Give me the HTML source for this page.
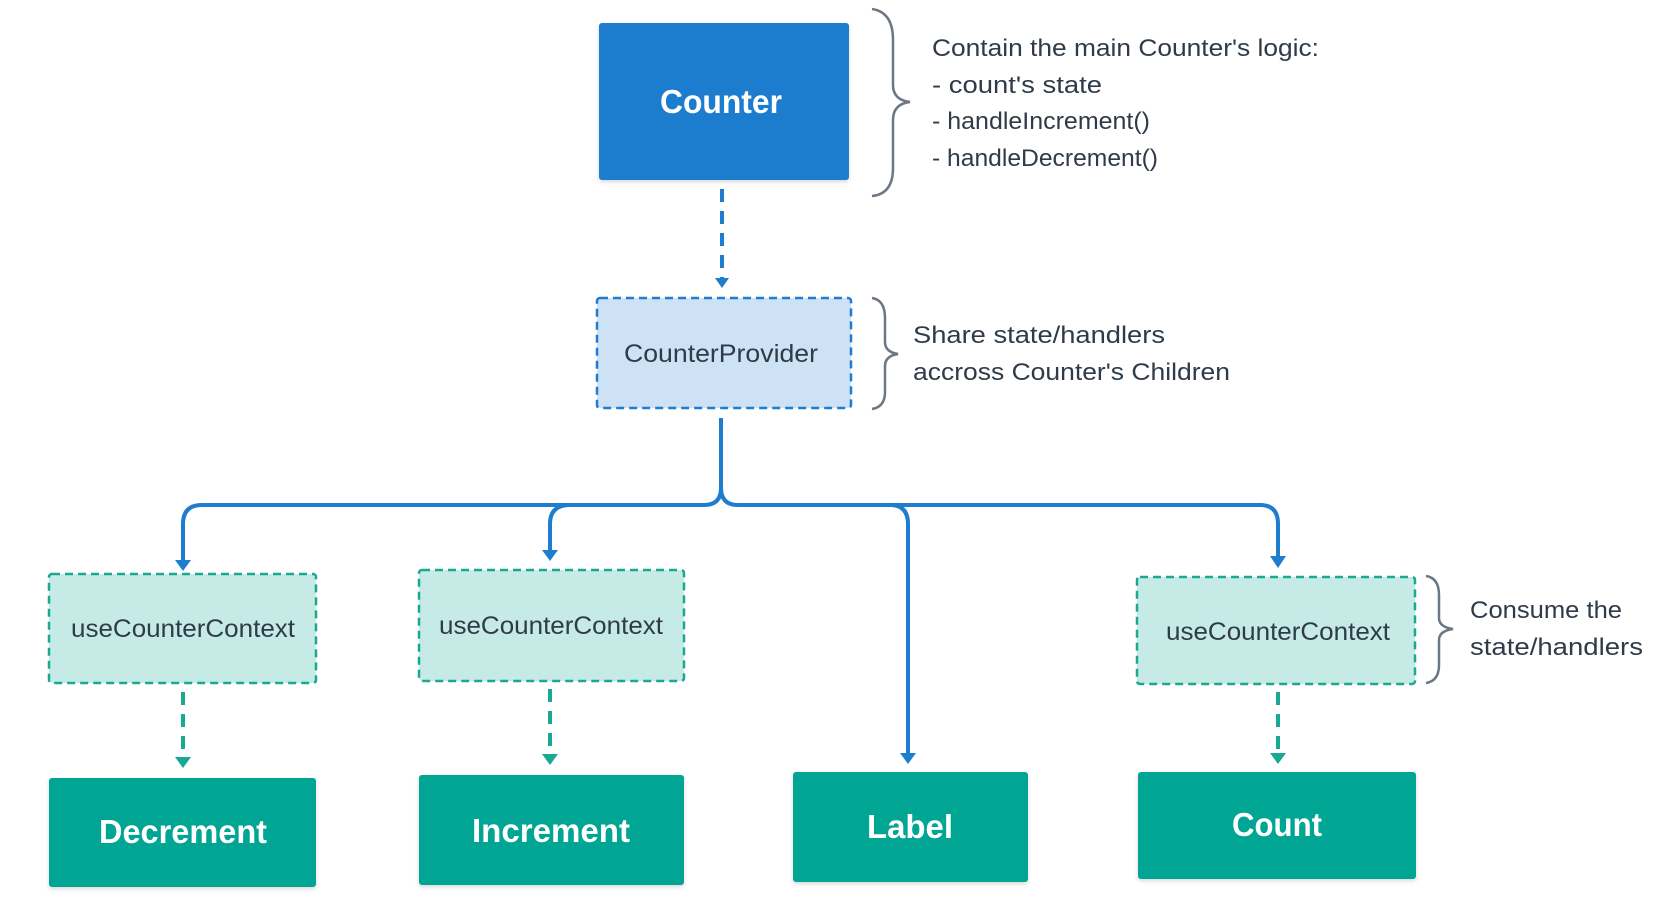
<!DOCTYPE html>
<html><head><meta charset="utf-8"><style>
html,body{margin:0;padding:0;background:#fff;}
svg{display:block;}
text{font-family:"Liberation Sans",sans-serif;}
</style></head><body>
<svg width="1663" height="897" viewBox="0 0 1663 897" xmlns="http://www.w3.org/2000/svg">
<defs>
<filter id="sh" x="-10%" y="-10%" width="120%" height="130%"><feDropShadow dx="0" dy="2" stdDeviation="2" flood-color="#000" flood-opacity="0.15"/></filter>
</defs>
<rect x="0" y="0" width="1663" height="897" fill="#fff"/>

<!-- Counter -->
<rect x="599" y="23" width="250" height="157" rx="3" fill="#1e7dcf" filter="url(#sh)"/>
<text x="721" y="113" text-anchor="middle" font-size="33" font-weight="bold" fill="#fff" textLength="122" lengthAdjust="spacingAndGlyphs">Counter</text>

<!-- brace 1 -->
<path d="M872 9 Q893 12 893 40 L893 85 Q893 100 910 102 Q893 104 893 120 L893 168 Q893 194 872 196" fill="none" stroke="#6b7785" stroke-width="2.5"/>
<g font-size="24" fill="#2f3b48">
<text x="932" y="56" textLength="387" lengthAdjust="spacingAndGlyphs">Contain the main Counter's logic:</text>
<text x="932" y="93" textLength="170" lengthAdjust="spacingAndGlyphs">- count's state</text>
<text x="932" y="129" textLength="218" lengthAdjust="spacingAndGlyphs">- handleIncrement()</text>
<text x="932" y="166" textLength="226" lengthAdjust="spacingAndGlyphs">- handleDecrement()</text>
</g>

<!-- dashed arrow counter->provider -->
<line x1="722" y1="189" x2="722" y2="278" stroke="#1e7dcf" stroke-width="4" stroke-dasharray="13 9"/>
<path d="M715 278 L729 278 L722 288 Z" fill="#1e7dcf"/>

<!-- Provider -->
<rect x="597" y="298" width="254" height="110" rx="3" fill="#cde2f5" stroke="#1e7dcf" stroke-width="2.5" stroke-dasharray="8 5"/>
<text x="721" y="362" text-anchor="middle" font-size="25" fill="#2f3b48" textLength="194" lengthAdjust="spacingAndGlyphs">CounterProvider</text>

<!-- brace 2 -->
<path d="M872 298 Q885 300 885 318 L885 342 Q885 352 898 354 Q885 356 885 366 L885 392 Q885 407 872 409" fill="none" stroke="#6b7785" stroke-width="2.5"/>
<text x="913" y="343" font-size="24" fill="#2f3b48" textLength="252" lengthAdjust="spacingAndGlyphs">Share state/handlers</text>
<text x="913" y="380" font-size="24" fill="#2f3b48" textLength="317" lengthAdjust="spacingAndGlyphs">accross Counter's Children</text>

<!-- tree connectors -->
<g fill="none" stroke="#1e7dcf" stroke-width="4">
<path d="M721 418 L721 488 Q721 505 704 505 L202 505 Q183 505 183 524 L183 562"/>
<path d="M721 488 Q721 505 738 505 L1260 505 Q1278 505 1278 524 L1278 558"/>
<path d="M570 505 Q550 505 550 524 L550 552"/>
<path d="M890 505 Q908 505 908 524 L908 754"/>
</g>
<g fill="#1e7dcf">
<path d="M175 560 L191 560 L183 571 Z"/>
<path d="M542 550 L558 550 L550 561 Z"/>
<path d="M900 753 L916 753 L908 764 Z"/>
<path d="M1270 556 L1286 556 L1278 568 Z"/>
</g>

<!-- context boxes -->
<g fill="#c6eae5" stroke="#1aa892" stroke-width="2.5" stroke-dasharray="8 5">
<rect x="49" y="574" width="267" height="109" rx="3"/>
<rect x="419" y="570" width="265" height="111" rx="3"/>
<rect x="1137" y="577" width="278" height="107" rx="3"/>
</g>
<g font-size="25" fill="#2f3b48" text-anchor="middle">
<text x="183" y="637" textLength="224" lengthAdjust="spacingAndGlyphs">useCounterContext</text>
<text x="551" y="634" textLength="224" lengthAdjust="spacingAndGlyphs">useCounterContext</text>
<text x="1278" y="640" textLength="224" lengthAdjust="spacingAndGlyphs">useCounterContext</text>
</g>

<!-- brace 3 -->
<path d="M1426 576 Q1439 578 1439 595 L1439 618 Q1439 627 1453 629 Q1439 631 1439 640 L1439 665 Q1439 681 1426 683" fill="none" stroke="#6b7785" stroke-width="2.5"/>
<text x="1470" y="618" font-size="24" fill="#2f3b48" textLength="152" lengthAdjust="spacingAndGlyphs">Consume the</text>
<text x="1470" y="655" font-size="24" fill="#2f3b48" textLength="173" lengthAdjust="spacingAndGlyphs">state/handlers</text>

<!-- green dashed arrows -->
<g stroke="#1aa892" stroke-width="4" stroke-dasharray="13 9" fill="none">
<line x1="183" y1="692" x2="183" y2="758"/>
<line x1="550" y1="689" x2="550" y2="755"/>
<line x1="1278" y1="692" x2="1278" y2="756"/>
</g>
<g fill="#1aa892">
<path d="M175 757 L191 757 L183 768 Z"/>
<path d="M542 754 L558 754 L550 765 Z"/>
<path d="M1270 753 L1286 753 L1278 764 Z"/>
</g>

<!-- bottom boxes -->
<g fill="#00a693" filter="url(#sh)">
<rect x="49" y="778" width="267" height="109" rx="3"/>
<rect x="419" y="775" width="265" height="110" rx="3"/>
<rect x="793" y="772" width="235" height="110" rx="3"/>
<rect x="1138" y="772" width="278" height="107" rx="3"/>
</g>
<g font-size="33" font-weight="bold" fill="#fff" text-anchor="middle">
<text x="183" y="843" textLength="168" lengthAdjust="spacingAndGlyphs">Decrement</text>
<text x="551" y="842" textLength="158" lengthAdjust="spacingAndGlyphs">Increment</text>
<text x="910" y="838" textLength="86" lengthAdjust="spacingAndGlyphs">Label</text>
<text x="1277" y="836" textLength="90" lengthAdjust="spacingAndGlyphs">Count</text>
</g>
</svg>
</body></html>
